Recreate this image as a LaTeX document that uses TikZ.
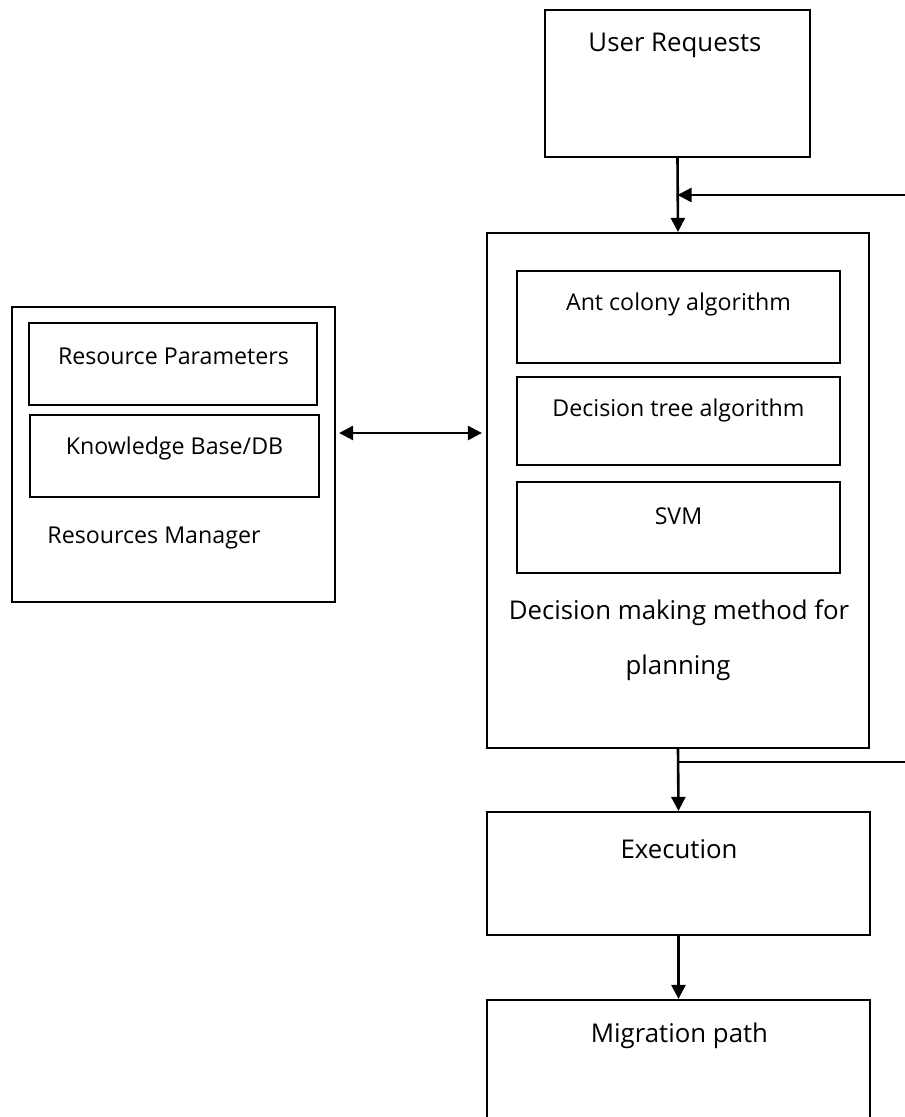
\documentclass[tikz,border=0pt]{standalone}
\usepackage{fontspec}
\setmainfont{Open Sans}
\usetikzlibrary{arrows.meta}

\tikzset{
  box/.style={draw,line width=2.2pt,inner sep=0pt},
  bigtxt/.style={font=\fontsize{25.8}{30}\selectfont},
  smalltxt/.style={font=\fontsize{23.2}{27}\selectfont},
  conn/.style={line width=2.6pt},
}

\begin{document}
\begin{tikzpicture}[>={Triangle[length=14pt,width=14pt]},x=1pt,y=-1pt]
  \useasboundingbox (0,0) rectangle (905,1117);

  % ===== USER REQUESTS =====
  \node[box,minimum width=265pt,minimum height=147pt] (user) at (677.5,83.5) {};
  \node[bigtxt] (usertxt) at (675,45) {User Requests};

  % ===== DECISION MAKING =====
  \node[box,minimum width=382pt,minimum height=515pt] (dec) at (678,490.5) {};
  \node[box,minimum width=323pt,minimum height=92pt] (ant) at (678.5,317) {};
  \node[smalltxt] (anttxt) at (678.5,304) {Ant colony algorithm};
  \node[box,minimum width=323pt,minimum height=88pt] (tree) at (678.5,421) {};
  \node[smalltxt] (treetxt) at (678.5,410) {Decision tree algorithm};
  \node[box,minimum width=323pt,minimum height=91pt] (svm) at (678.5,527.5) {};
  \node[smalltxt] (svmtxt) at (678.5,516) {SVM};
  \node[bigtxt] (dectxt) at (679,613) {Decision making method for};
  \node[bigtxt] (dectxtb) at (678,668) {planning};

  % ===== RESOURCES MANAGER =====
  \node[box,minimum width=323pt,minimum height=295pt] (rm) at (173.5,454.5) {};
  \node[box,minimum width=288pt,minimum height=82pt] (par) at (173,364) {};
  \node[smalltxt] (partxt) at (173.5,356) {Resource Parameters};
  \node[box,minimum width=289pt,minimum height=82pt] (kb) at (174.5,456) {};
  \node[smalltxt] (kbtxt) at (174.5,448) {Knowledge Base/DB};
  \node[smalltxt] (rmtxt) at (154,538) {Resources Manager};

  % ===== EXECUTION / MIGRATION =====
  \node[box,minimum width=383pt,minimum height=123pt] (exe) at (678.5,873.5) {};
  \node[bigtxt] (exetxt) at (679,849) {Execution};
  \node[box,minimum width=383pt,minimum height=160pt] (mig) at (678.5,1080) {};
  \node[bigtxt] (migtxt) at (679.5,1036) {Migration path};

  % ===== CONNECTORS =====
  \coordinate (fbtop) at (905,195);
  \coordinate (fbbot) at (905,762);
  \draw[conn,->] (user.south) -- (dec.north);
  \draw[conn,->] (fbtop) -- (fbtop -| user.south);
  \draw[conn] (fbbot) -- (fbbot -| dec.south);
  \draw[conn,->] (dec.south) -- (exe.north);
  \draw[conn,->] (exe.south) -- (mig.north);
  \draw[conn,<->,shorten <=3pt,shorten >=4pt]
        ([yshift=21.5pt]rm.east) -- ([yshift=21.5pt]rm.east -| dec.west);

\end{tikzpicture}
\end{document}
